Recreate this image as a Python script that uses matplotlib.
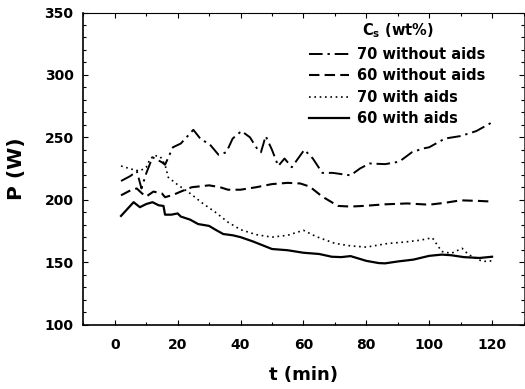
import matplotlib
matplotlib.use("Agg")
import matplotlib.pyplot as plt
from matplotlib.ticker import MultipleLocator

plt.rcParams['font.family'] = ['DejaVu Sans']
plt.rcParams['font.weight'] = 'bold'
plt.rcParams['mathtext.fontset'] = 'dejavusans'
plt.rcParams['mathtext.default'] = 'bf'

# 70 wt% without aids (dash-dot)
t_70_without = [2, 5, 7, 8.5, 10, 12, 15, 16, 18.5, 21, 25, 27.5, 30, 33, 35.5, 37.5, 40.3,
                43, 45.5, 46.5, 48, 50, 52, 54, 56.3, 60.3, 63, 66, 69.3, 75, 78, 81, 86,
                90.5, 94.5, 98, 100, 105, 110, 115, 120]
p_70_without = [215, 219, 223, 209, 221, 234, 230, 228, 242, 245, 256, 248, 245, 236, 238, 249, 255,
                250, 240, 238, 251, 240, 227, 233, 226, 240, 233, 221.5, 221.5, 219.5, 225, 229, 228.5,
                230.5, 238, 241, 242, 249, 251, 255, 262]

# 60 wt% without aids (dashed)
t_60_without = [2, 5, 7, 8.7, 10, 12.3, 15, 16, 18.7, 21, 24.5, 30, 33.5, 36, 40, 45, 50, 55, 59,
                62, 66, 71, 75, 79, 86, 93, 100, 105, 110, 116, 120]
p_60_without = [203.5, 207.5, 209, 205, 202.5, 206.5, 205, 202, 204, 206.5, 210, 211.5, 210, 208, 208,
                210, 212.5, 213.5, 213, 210.5, 202.5, 195, 194.5, 195, 196.3, 197, 196, 197.5, 199.5,
                199, 198.5]

# 70 wt% with aids (dotted)
t_70_with = [2, 6, 8, 10, 11, 12.5, 14.5, 16, 17, 20, 24, 28, 32, 36, 40, 45, 50, 55, 60, 64, 70,
             75, 80, 87, 92, 97, 101, 104, 107, 110.5, 112.5, 117, 120]
p_70_with = [227, 224, 223, 226, 231.5, 235.5, 234.5, 228, 218, 212, 205, 197, 190, 182, 176, 172,
             170, 171.5, 175.5, 170.5, 165, 163, 162, 165, 166, 167.5, 169.5, 158.5, 157, 161, 156,
             150.5, 151]

# 60 wt% with aids (solid)
t_60_with = [2, 6, 8, 10, 12, 14, 15.5, 16, 18, 20, 21, 24, 26.5, 30, 32, 34.5, 37.5, 40, 44, 48,
             50, 55, 60, 65, 69, 72, 75, 80, 84, 86, 90, 95, 100, 104, 107, 111, 116, 120]
p_60_with = [187, 198, 194, 196.5, 198, 195.5, 195, 188, 188, 189, 186.5, 184, 180.5, 179, 176,
             172.5, 171.5, 170, 166.5, 162.5, 160.5, 159.5, 157.5, 156.5, 154.3, 154, 154.8, 151,
             149.2, 149, 150.5, 152, 155, 156, 155.5, 154, 153.3, 154.3]

labels = ['70 without aids', '60 without aids', '70 with aids', '60 with aids']

fig = plt.figure(figsize=(5.25, 3.89), dpi=100)
ax = fig.add_axes([83.3/525, 1 - 324.5/389, (523.5 - 83.3)/525, (324.5 - 12.5)/389])

ax.plot(t_70_without, p_70_without, color='black', lw=1.4, linestyle=(0, (7, 2.5, 1.2, 2.5)), label=labels[0])
ax.plot(t_60_without, p_60_without, color='black', lw=1.5, linestyle=(0, (5, 2.5)), label=labels[1])
ax.plot(t_70_with, p_70_with, color='black', lw=1.2, linestyle=(0, (1, 2.2)), label=labels[2])
ax.plot(t_60_with, p_60_with, color='black', lw=1.6, linestyle='-', label=labels[3])

ax.set_xlim(-10, 130)
ax.set_ylim(100, 350)
ax.xaxis.set_major_locator(MultipleLocator(20))
ax.xaxis.set_minor_locator(MultipleLocator(10))
ax.yaxis.set_major_locator(MultipleLocator(50))
ax.yaxis.set_minor_locator(MultipleLocator(10))
ax.tick_params(which='both', direction='in', top=True, right=True, width=0.8)
ax.tick_params(which='major', length=3.5)
ax.tick_params(which='minor', length=2)
ax.tick_params(axis='x', which='major', pad=10, labelsize=10)
ax.tick_params(axis='y', which='major', pad=7, labelsize=10)
for lab in ax.get_xticklabels() + ax.get_yticklabels():
    lab.set_fontweight('bold')

for side in ['left', 'bottom']:
    ax.spines[side].set_linewidth(1.2)
ax.spines['top'].set_linewidth(0.8)
ax.spines['right'].set_linewidth(0.5)

ax.set_xlabel('t (min)', fontsize=13, fontweight='bold', labelpad=10)
ax.set_ylabel('P (W)', fontsize=14.5, fontweight='bold', labelpad=13)

leg = ax.legend(title=r'C$_\mathbf{s}$ (wt%)', frameon=False, loc='upper left',
                bbox_to_anchor=(0.5, 0.99), fontsize=10.5, title_fontsize=10.5,
                handlelength=2.7, handletextpad=0.6, labelspacing=0.45, borderaxespad=0)
leg.get_title().set_fontweight('bold')
for txt in leg.get_texts():
    txt.set_fontweight('bold')

fig.savefig('out.png', dpi=100)
